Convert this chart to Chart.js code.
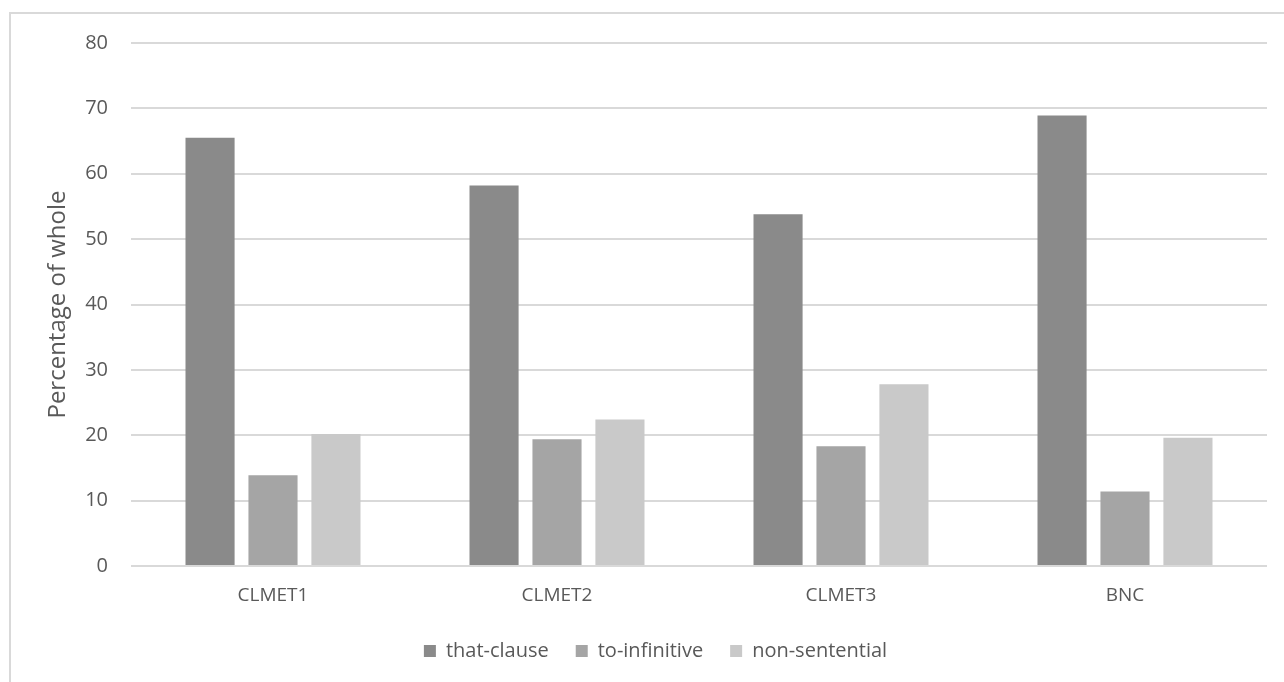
<!DOCTYPE html>
<html>
<head>
<meta charset="utf-8">
<script src="https://cdn.jsdelivr.net/npm/chart.js@4/dist/chart.umd.min.js"></script>
<style>
  html, body { margin: 0; padding: 0; background: #fff; overflow: hidden; }
  .frame {
    position: absolute; left: 9px; top: 12px;
    width: 1400px; height: 800px;
    border: 2px solid #d9d9d9;
  }
  .wrap { position: absolute; left: 0; top: 0; width: 1284px; height: 682px; }
</style>
</head>
<body>
<div class="frame"></div>
<div class="wrap"><canvas id="barChart" width="1284" height="682"></canvas></div>
<script>
// corpora on the x axis
const categories = ["CLMET1", "CLMET2", "CLMET3", "BNC"];

// percentage of whole per complement type
const thatClause = [65.5, 58.2, 53.8, 68.9];
const toInfinitive = [13.9, 19.4, 18.3, 11.4];
const nonSentential = [20.2, 22.4, 27.8, 19.6];

const yTicks = [0, 10, 20, 30, 40, 50, 60, 70, 80];

const textColor = "#595959";
const fontFamily = "'Open Sans', 'DejaVu Sans', sans-serif";

Chart.defaults.font.family = fontFamily;
Chart.defaults.color = textColor;

const ctx = document.getElementById("barChart");

new Chart(ctx, {
    type: "bar",
    data: {
        labels: categories,
        datasets: [
            { label: "that-clause", data: thatClause, backgroundColor: "#8a8a8a" },
            { label: "to-infinitive", data: toInfinitive, backgroundColor: "#a5a5a5" },
            { label: "non-sentential", data: nonSentential, backgroundColor: "#c9c9c9" }
        ]
    },
    options: {
        responsive: false,
        animation: false,
        categoryPercentage: 0.665,
        barPercentage: 0.78,
        layout: {
            padding: { top: 43, left: 44, right: 17, bottom: 11 }
        },
        plugins: {
            legend: {
                display: true,
                position: "bottom",
                labels: {
                    boxWidth: 12,
                    boxHeight: 12,
                    padding: 27,
                    color: textColor,
                    font: { size: 20 }
                }
            },
            tooltip: { enabled: false }
        },
        scales: {
            x: {
                grid: { display: false, drawTicks: false },
                border: { display: false },
                ticks: { color: textColor, font: { size: 19 }, padding: 18 },
                afterFit: (scale) => { scale.height = 48; }
            },
            y: {
                min: 0,
                max: 80,
                afterBuildTicks: (scale) => {
                    scale.ticks = yTicks.map(v => ({ value: v }));
                },
                grid: { color: "#d9d9d9", lineWidth: 2, drawTicks: false },
                border: { display: false },
                ticks: { color: textColor, font: { size: 20 }, padding: 23 },
                title: {
                    display: true,
                    text: "Percentage of whole",
                    color: textColor,
                    font: { size: 24 },
                    padding: { top: 0, bottom: 2 }
                },
                afterFit: (scale) => { scale.width = 87; }
            }
        }
    }
});
</script>
</body>
</html>
